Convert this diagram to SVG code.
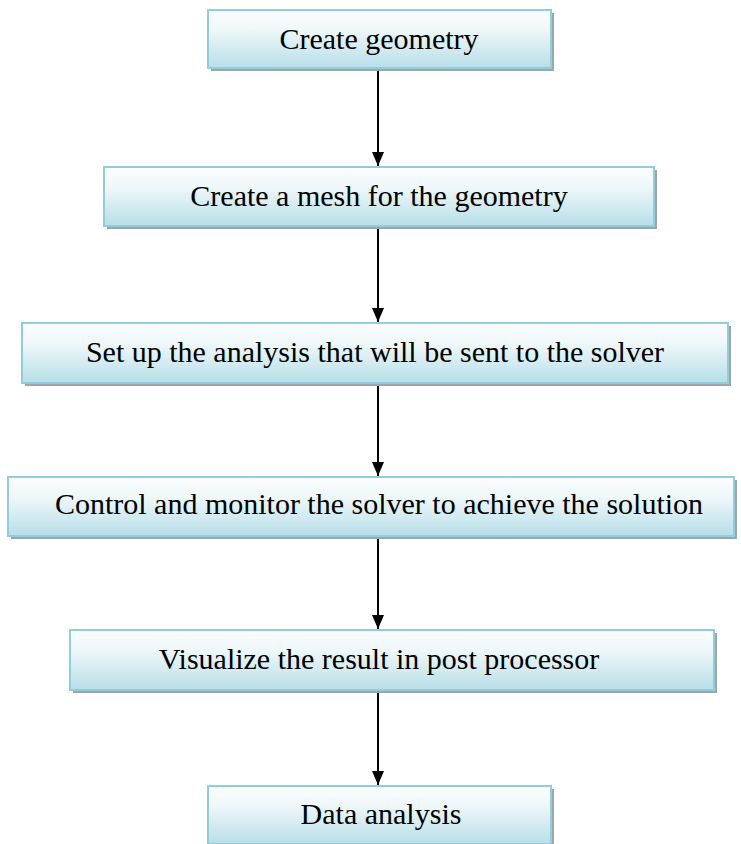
<svg xmlns="http://www.w3.org/2000/svg" width="741" height="844" viewBox="0 0 741 844">
<defs>
<linearGradient id="g" x1="0" y1="0" x2="0" y2="1">
<stop offset="0" stop-color="#fbfdfe"/>
<stop offset="0.35" stop-color="#eef7f9"/>
<stop offset="1" stop-color="#b7dee8"/>
</linearGradient>
<marker id="ah" markerWidth="14" markerHeight="12" refX="14" refY="6" orient="auto" markerUnits="userSpaceOnUse" viewBox="0 0 14 12">
<path d="M0,0 L14,6 L0,12 Z" fill="#000"/>
</marker>
<style>
.sh{fill:#9aa7aa;}
.bx{fill:url(#g);stroke:#92cddc;stroke-width:2;}
.t{font-family:"Liberation Serif","Times New Roman",serif;font-size:30px;fill:#000;text-anchor:middle;}
.c{stroke:#000;stroke-width:2;fill:none;}
</style>
</defs>
<g id="connectors">
<line class="c" x1="378" y1="71" x2="378" y2="166" marker-end="url(#ah)"/>
<line class="c" x1="378" y1="229" x2="378" y2="322" marker-end="url(#ah)"/>
<line class="c" x1="378" y1="386" x2="378" y2="476" marker-end="url(#ah)"/>
<line class="c" x1="378" y1="539" x2="378" y2="629" marker-end="url(#ah)"/>
<line class="c" x1="378" y1="693" x2="378" y2="785" marker-end="url(#ah)"/>
</g>
<g id="n1">
<rect class="sh" x="211" y="13" width="343" height="58"/>
<rect class="bx" x="208" y="10" width="343" height="58"/>
<text class="t" x="379" y="49">Create geometry</text>
</g>
<g id="n2">
<rect class="sh" x="107" y="170" width="550" height="59"/>
<rect class="bx" x="104" y="167" width="550" height="59"/>
<text class="t" x="379" y="206">Create a mesh for the geometry</text>
</g>
<g id="n3">
<rect class="sh" x="25" y="326" width="706" height="60"/>
<rect class="bx" x="22" y="323" width="706" height="60"/>
<text class="t" x="375" y="362">Set up the analysis that will be sent to the solver</text>
</g>
<g id="n4">
<rect class="sh" x="11" y="480" width="726" height="59"/>
<rect class="bx" x="8" y="477" width="726" height="59"/>
<text class="t" x="379" y="514">Control and monitor the solver to achieve the solution</text>
</g>
<g id="n5">
<rect class="sh" x="73" y="633" width="644" height="60"/>
<rect class="bx" x="70" y="630" width="644" height="60"/>
<text class="t" x="379" y="669">Visualize the result in post processor</text>
</g>
<g id="n6">
<rect class="sh" x="211" y="789" width="343" height="58"/>
<rect class="bx" x="208" y="786" width="343" height="58"/>
<text class="t" x="381" y="824">Data analysis</text>
</g>
</svg>
